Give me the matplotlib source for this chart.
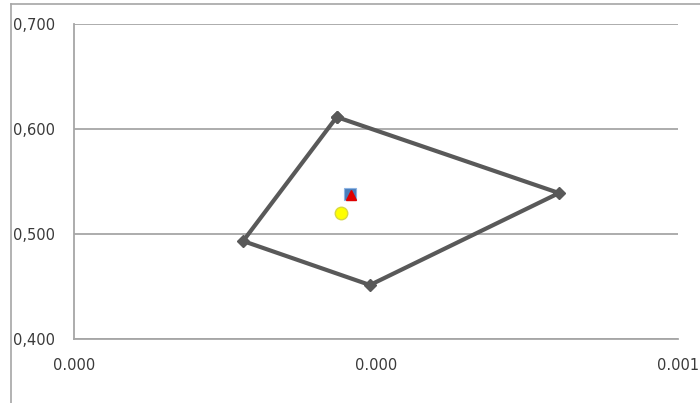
import matplotlib
matplotlib.use("Agg")
import matplotlib.pyplot as plt
from matplotlib.lines import Line2D

# Data
poly_x = [0.000435, 0.000803, 0.000490, 0.000280, 0.000435]
poly_y = [0.6114, 0.5390, 0.4514, 0.4933, 0.6114]
square_x = [0.000457]
square_y = [0.538]
triangle_x = [0.000459]
triangle_y = [0.537]
circle_x = [0.000442]
circle_y = [0.520]

x_ticks = [0.0, 0.0005, 0.001]
x_tick_labels = ["0.000", "0.000", "0.001"]
y_ticks = [0.4, 0.5, 0.6, 0.7]
y_tick_labels = ["0,400", "0,500", "0,600", "0,700"]

W, H = 700, 403
fig = plt.figure(figsize=(W / 100, H / 100), dpi=100)
fig.patch.set_facecolor("white")

# outer chart frame (only left and top are visible)
fig.add_artist(Line2D([11 / W, 11 / W], [0, 1 - 4 / H], color="#a6a6a6", lw=1.2))
fig.add_artist(Line2D([11 / W, 1], [1 - 4 / H, 1 - 4 / H], color="#a6a6a6", lw=1.2))

ax = fig.add_axes([74 / W, (H - 339) / H, (678 - 74) / W, (339 - 24) / H])
ax.set_xlim(0, 0.001)
ax.set_ylim(0.4, 0.7)

for s in ["top", "right"]:
    ax.spines[s].set_visible(False)
ax.spines["left"].set_color("#a6a6a6")
ax.spines["bottom"].set_color("#a6a6a6")
ax.spines["left"].set_linewidth(1.3)
ax.spines["bottom"].set_linewidth(1.3)

ax.set_yticks(y_ticks)
ax.set_yticklabels(y_tick_labels)
ax.set_xticks(x_ticks)
ax.set_xticklabels(x_tick_labels)
ax.grid(axis="y", color="#a6a6a6", lw=1.3)
ax.set_axisbelow(True)
ax.tick_params(axis="both", length=0, labelsize=10.5, labelcolor="#3a3a3a")
ax.tick_params(axis="y", pad=(74 - 13) * 0.72)
for lab in ax.get_yticklabels():
    lab.set_horizontalalignment("left")
ax.tick_params(axis="x", pad=14)

ax.plot(poly_x, poly_y, color="#595959", lw=3, marker="D", ms=6,
        mfc="#595959", mec="#595959", solid_joinstyle="miter", clip_on=False)
ax.plot(square_x, square_y, ls="none", marker="s", ms=8, mfc="#4a7ebb",
        mec="#8eb4e3", mew=0.8)
ax.plot(triangle_x, triangle_y, ls="none", marker="^", ms=6.5, mfc="#e00000",
        mec="#e00000")
ax.plot(circle_x, circle_y, ls="none", marker="o", ms=9, mfc="#ffff00",
        mec="#d8d840", mew=1)

fig.savefig("out.png", dpi=100, facecolor="white")
